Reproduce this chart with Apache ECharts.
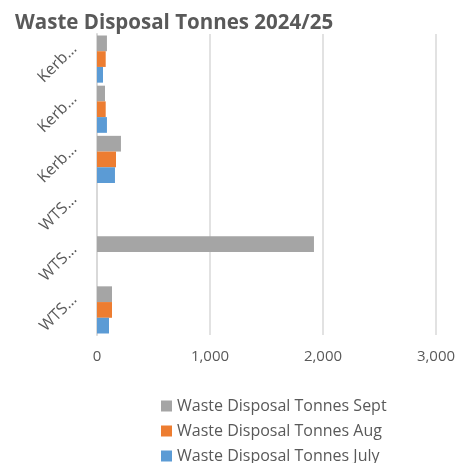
<!DOCTYPE html>
<html>
<head>
<meta charset="utf-8">
<script src="https://cdn.jsdelivr.net/npm/echarts@6/dist/echarts.min.js"></script>
<style>
  html, body { margin: 0; padding: 0; background: #fff; }
  #chart { width: 466px; height: 463px; }
</style>
</head>
<body>
<div id="chart"></div>
<script>
// categories bottom -> top (as the axis draws them)
const categories = ["WTS…", "WTS…", "WTS…", "Kerb…", "Kerb…", "Kerb…"];
const julyTonnes = [106, 0, 0, 159, 88, 53];
const augTonnes = [133, 0, 0, 168, 77, 77];
const septTonnes = [133, 1920, 0, 212, 71, 88];
const xTicks = [0, 1000, 2000, 3000];

const chart = echarts.init(document.getElementById("chart"));
const fontFamily = "Open Sans, Noto Sans, sans-serif";

const option = {
  animation: false,
  title: {
    text: "Waste Disposal Tonnes 2024/25",
    left: 10,
    top: 8,
    textStyle: {
      fontFamily: fontFamily,
      fontSize: 20.5,
      fontWeight: "bold",
      color: "#595959",
    },
  },
  grid: {
    left: 97,
    right: 30,
    top: 34,
    bottom: 128,
  },
  xAxis: {
    type: "value",
    min: xTicks[0],
    max: xTicks[xTicks.length - 1],
    interval: 1000,
    axisLine: { show: false },
    axisTick: { show: false },
    splitLine: { lineStyle: { color: "#d9d9d9", width: 1.5 } },
    axisLabel: {
      margin: 14,
      fontFamily: fontFamily,
      fontSize: 15,
      color: "#595959",
      formatter: (v) => v.toLocaleString("en-US"),
    },
  },
  yAxis: {
    type: "category",
    data: categories,
    axisLine: { lineStyle: { color: "#d9d9d9", width: 2 } },
    axisTick: { show: false },
    axisLabel: {
      interval: 0,
      hideOverlap: false,
      rotate: 45,
      margin: 10,
      verticalAlign: "bottom",
      lineHeight: 36,
      fontFamily: fontFamily,
      fontSize: 16,
      color: "#595959",
    },
  },
  legend: {
    orient: "vertical",
    left: 161,
    top: 397,
    height: 120,
    padding: 0,
    itemWidth: 11,
    itemHeight: 11,
    itemGap: 7,
    icon: "rect",
    textStyle: {
      fontFamily: fontFamily,
      fontSize: 16,
      lineHeight: 18,
      color: "#595959",
    },
  },
  series: [
    {
      name: "Waste Disposal Tonnes Sept",
      type: "bar",
      data: septTonnes,
      itemStyle: { color: "#a5a5a5" },
      barGap: "0%",
      barCategoryGap: "6%",
    },
    {
      name: "Waste Disposal Tonnes Aug",
      type: "bar",
      data: augTonnes,
      itemStyle: { color: "#ed7d31" },
    },
    {
      name: "Waste Disposal Tonnes July",
      type: "bar",
      data: julyTonnes,
      itemStyle: { color: "#5b9bd5" },
    },
  ],
};

chart.setOption(option);
</script>
</body>
</html>
